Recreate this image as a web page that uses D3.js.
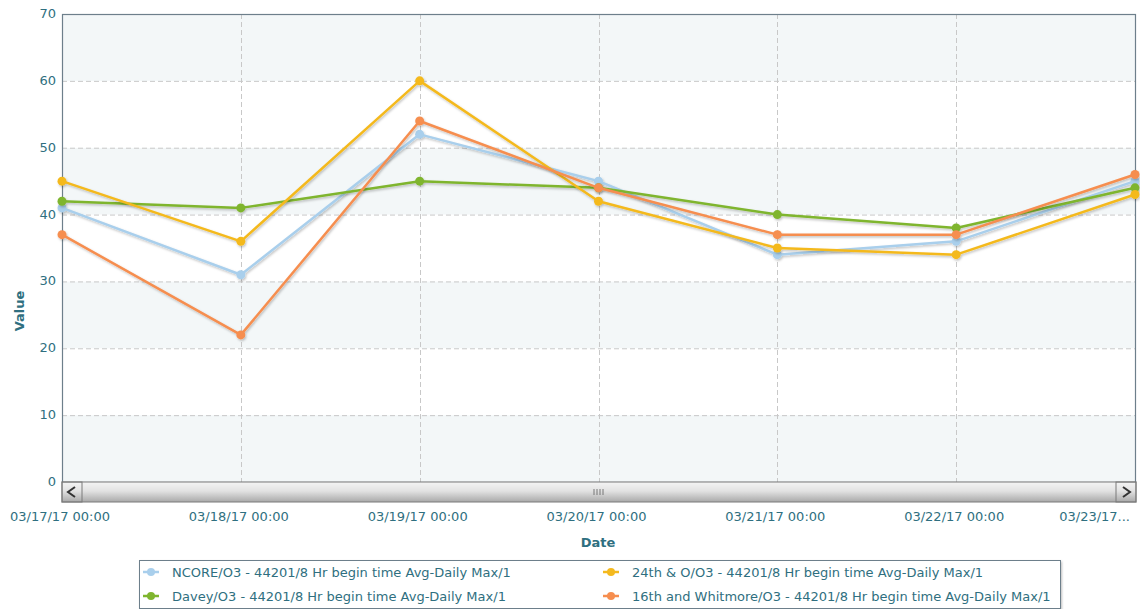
<!DOCTYPE html>
<html>
<head>
<meta charset="utf-8">
<script src="https://d3js.org/d3.v7.min.js"></script>
<style>
  body { margin: 0; background: #fff; }
  svg text { font-family: "DejaVu Sans", Verdana, sans-serif; }
</style>
</head>
<body>
<div id="chart"></div>
<script>
var dates = ["03/17/17 00:00", "03/18/17 00:00", "03/19/17 00:00", "03/20/17 00:00",
             "03/21/17 00:00", "03/22/17 00:00", "03/23/17 00:00"]
var yTicks = [0, 10, 20, 30, 40, 50, 60, 70]

var ncore = [41, 31, 52, 45, 34, 36, 45]
var o24th = [45, 36, 60, 42, 35, 34, 43]
var davey = [42, 41, 45, 44, 40, 38, 44]
var whitmore = [37, 22, 54, 44, 37, 37, 46]

var seriesNames = [
  "NCORE/O3 - 44201/8 Hr begin time Avg-Daily Max/1",
  "24th & O/O3 - 44201/8 Hr begin time Avg-Daily Max/1",
  "Davey/O3 - 44201/8 Hr begin time Avg-Daily Max/1",
  "16th and Whitmore/O3 - 44201/8 Hr begin time Avg-Daily Max/1"
]
var seriesColors = ["#a9cfec", "#f4b91e", "#7fb52f", "#f68e4f"]

var series = [
  { name: seriesNames[0], color: seriesColors[0], values: ncore },
  { name: seriesNames[2], color: seriesColors[2], values: davey },
  { name: seriesNames[1], color: seriesColors[1], values: o24th },
  { name: seriesNames[3], color: seriesColors[3], values: whitmore }
]

var width = 1140, height = 609
var margin = { top: 14, left: 62, right: 4, bottom: 127 }
var chartWidth = width - margin.left - margin.right
var chartHeight = height - margin.top - margin.bottom
var textColor = "#2f6f80"

var svg = d3.select("#chart").append("svg").attr("width", width).attr("height", height)

var defs = svg.append("defs")
var shadow = defs.append("filter").attr("id", "shadow")
  .attr("x", "-5%").attr("y", "-5%").attr("width", "110%").attr("height", "120%")
shadow.append("feDropShadow").attr("dx", 1).attr("dy", 1.5).attr("stdDeviation", 1)
  .attr("flood-color", "#000").attr("flood-opacity", 0.25)

var sbGrad = defs.append("linearGradient").attr("id", "sbgrad").attr("x1", 0).attr("y1", 0).attr("x2", 0).attr("y2", 1)
sbGrad.append("stop").attr("offset", "0%").attr("stop-color", "#f4f4f4")
sbGrad.append("stop").attr("offset", "45%").attr("stop-color", "#e2e2e2")
sbGrad.append("stop").attr("offset", "100%").attr("stop-color", "#a9a9a9")

var x = d3.scalePoint().domain(dates).range([0, chartWidth - 1])
var y = d3.scaleLinear().domain([0, 70]).range([chartHeight, 0])

var g = svg.append("g").attr("transform", "translate(" + [margin.left, margin.top] + ")")

// alternating bands
var bands = d3.range(0, 70, 10)
g.selectAll("rect.band").data(bands).enter().append("rect")
  .attr("class", "band")
  .attr("x", 0).attr("width", chartWidth)
  .attr("y", function(d) { return y(d + 10) })
  .attr("height", function(d) { return y(d) - y(d + 10) })
  .attr("fill", function(d) { return (d / 10) % 2 == 0 ? "#f3f7f8" : "#ffffff" })

// grid lines
g.selectAll("line.hgrid").data(yTicks.slice(1, -1)).enter().append("line")
  .attr("x1", 0).attr("x2", chartWidth)
  .attr("y1", function(d) { return y(d) + 0.5 }).attr("y2", function(d) { return y(d) + 0.5 })
  .attr("stroke", "#c8c8c8").attr("stroke-dasharray", "5,3")
g.selectAll("line.vgrid").data(dates.slice(1, -1)).enter().append("line")
  .attr("x1", function(d) { return Math.round(x(d)) + 0.5 }).attr("x2", function(d) { return Math.round(x(d)) + 0.5 })
  .attr("y1", 0).attr("y2", chartHeight)
  .attr("stroke", "#c8c8c8").attr("stroke-dasharray", "5,3")

// plot border
g.append("rect").attr("x", 0.5).attr("y", 0.5).attr("width", chartWidth - 1).attr("height", chartHeight)
  .attr("fill", "none").attr("stroke", "#6d7f8b").attr("stroke-width", 1.2)

// y axis labels
g.selectAll("text.ytick").data(yTicks).enter().append("text")
  .attr("x", -6).attr("y", function(d) { return y(d) + 4 })
  .attr("text-anchor", "end").attr("font-size", 13).attr("fill", textColor)
  .text(function(d) { return d })

// lines
var line = d3.line()
  .x(function(d, i) { return x(dates[i]) })
  .y(function(d) { return y(d) })

var sg = g.selectAll("g.series").data(series).enter().append("g")
  .attr("class", "series").attr("filter", "url(#shadow)")
sg.append("path")
  .attr("d", function(d) { return line(d.values) })
  .attr("fill", "none").attr("stroke", function(d) { return d.color })
  .attr("stroke-width", 2.5).attr("stroke-linejoin", "round")
sg.selectAll("circle").data(function(d) { return d.values.map(function(v) { return { v: v, c: d.color } }) })
  .enter().append("circle")
  .attr("cx", function(d, i) { return x(dates[i]) })
  .attr("cy", function(d) { return y(d.v) })
  .attr("r", 4.5).attr("fill", function(d) { return d.c })

// scrollbar
var sb = g.append("g").attr("transform", "translate(0," + chartHeight + ")")
sb.append("rect").attr("x", 0).attr("y", 0).attr("width", chartWidth).attr("height", 20)
  .attr("fill", "url(#sbgrad)").attr("stroke", "#7a7a7a")
sb.append("rect").attr("x", 0).attr("y", 0).attr("width", 20).attr("height", 20)
  .attr("fill", "none").attr("stroke", "#7a7a7a")
sb.append("rect").attr("x", chartWidth - 20).attr("y", 0).attr("width", 20).attr("height", 20)
  .attr("fill", "none").attr("stroke", "#7a7a7a")
sb.append("path").attr("d", "M13,5 L6,10 L13,15").attr("fill", "none").attr("stroke", "#333").attr("stroke-width", 2)
sb.append("path").attr("d", "M" + (chartWidth - 13) + ",5 L" + (chartWidth - 6) + ",10 L" + (chartWidth - 13) + ",15")
  .attr("fill", "none").attr("stroke", "#333").attr("stroke-width", 2)
sb.selectAll("line.grip").data([0, 1, 2, 3]).enter().append("line")
  .attr("x1", function(d) { return x(dates[3]) - 4.5 + d * 3 }).attr("x2", function(d) { return x(dates[3]) - 4.5 + d * 3 })
  .attr("y1", 7).attr("y2", 13).attr("stroke", "#777").attr("stroke-width", 1)

// x axis labels
g.selectAll("text.xtick").data(dates).enter().append("text")
  .attr("x", function(d, i) { return i == dates.length - 1 ? chartWidth - 6 : x(d) - 2 })
  .attr("y", chartHeight + 39)
  .attr("text-anchor", function(d, i) { return i == dates.length - 1 ? "end" : "middle" })
  .attr("font-size", 13).attr("fill", textColor)
  .text(function(d, i) { return i == dates.length - 1 ? d.slice(0, 8) + "..." : d })

// axis titles
svg.append("text").attr("x", 598).attr("y", 547).attr("text-anchor", "middle")
  .attr("font-size", 13).attr("font-weight", "bold").attr("fill", textColor).text("Date")
svg.append("text").attr("transform", "translate(24,311) rotate(-90)").attr("text-anchor", "middle")
  .attr("font-size", 13).attr("font-weight", "bold").attr("fill", textColor).text("Value")

// legend
var legend = svg.append("g").attr("transform", "translate(139,560)")
legend.append("rect").attr("x", 0.5).attr("y", 0.5).attr("width", 921).attr("height", 48)
  .attr("fill", "#fff").attr("stroke", "#6d7f8b").attr("filter", "url(#shadow)")
var legendItems = [
  { name: seriesNames[0], color: seriesColors[0], col: 0, row: 0 },
  { name: seriesNames[1], color: seriesColors[1], col: 1, row: 0 },
  { name: seriesNames[2], color: seriesColors[2], col: 0, row: 1 },
  { name: seriesNames[3], color: seriesColors[3], col: 1, row: 1 }
]
var li = legend.selectAll("g.item").data(legendItems).enter().append("g")
  .attr("transform", function(d) { return "translate(" + (d.col ? 464 : 4) + "," + (d.row ? 36 : 12) + ")" })
li.append("line").attr("x1", 0).attr("x2", 16).attr("y1", 0).attr("y2", 0)
  .attr("stroke", function(d) { return d.color }).attr("stroke-width", 2.5)
li.append("circle").attr("cx", 8).attr("cy", 0).attr("r", 4).attr("fill", function(d) { return d.color })
li.append("text").attr("x", 29).attr("y", 4.5).attr("font-size", 13).attr("fill", textColor)
  .text(function(d) { return d.name })
</script>
</body>
</html>
